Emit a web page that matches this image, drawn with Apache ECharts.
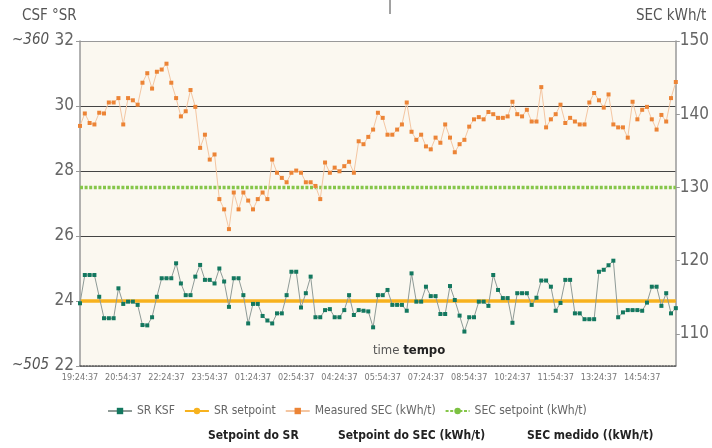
<!DOCTYPE html>
<html>
<head>
<meta charset="utf-8">
<script src="https://cdn.jsdelivr.net/npm/echarts@6/dist/echarts.min.js"></script>
<style>
  html, body { margin: 0; padding: 0; background: #ffffff; }
  #chart { width: 712px; height: 448px; }
</style>
</head>
<body>
<div id="chart"></div>
<script>
// Sampling times, every 10 minutes
const CATEGORIES = [
  '19:24:37','19:34:37','19:44:37','19:54:37','20:04:37','20:14:37','20:24:37','20:34:37','20:44:37',
  '20:54:37','21:04:37','21:14:37','21:24:37','21:34:37','21:44:37','21:54:37','22:04:37','22:14:37',
  '22:24:37','22:34:37','22:44:37','22:54:37','23:04:37','23:14:37','23:24:37','23:34:37','23:44:37',
  '23:54:37','00:04:37','00:14:37','00:24:37','00:34:37','00:44:37','00:54:37','01:04:37','01:14:37',
  '01:24:37','01:34:37','01:44:37','01:54:37','02:04:37','02:14:37','02:24:37','02:34:37','02:44:37',
  '02:54:37','03:04:37','03:14:37','03:24:37','03:34:37','03:44:37','03:54:37','04:04:37','04:14:37',
  '04:24:37','04:34:37','04:44:37','04:54:37','05:04:37','05:14:37','05:24:37','05:34:37','05:44:37',
  '05:54:37','06:04:37','06:14:37','06:24:37','06:34:37','06:44:37','06:54:37','07:04:37','07:14:37',
  '07:24:37','07:34:37','07:44:37','07:54:37','08:04:37','08:14:37','08:24:37','08:34:37','08:44:37',
  '08:54:37','09:04:37','09:14:37','09:24:37','09:34:37','09:44:37','09:54:37','10:04:37','10:14:37',
  '10:24:37','10:34:37','10:44:37','10:54:37','11:04:37','11:14:37','11:24:37','11:34:37','11:44:37',
  '11:54:37','12:04:37','12:14:37','12:24:37','12:34:37','12:44:37','12:54:37','13:04:37','13:14:37',
  '13:24:37','13:34:37','13:44:37','13:54:37','14:04:37','14:14:37','14:24:37','14:34:37','14:44:37',
  '14:54:37','15:04:37','15:14:37','15:24:37','15:34:37','15:44:37','15:54:37','16:04:37'
];

// SR KSF (left axis, °SR)
const SR_KSF = [
  23.93,24.80,24.80,24.80,24.13,23.47,23.47,23.47,24.39,23.91,
  23.98,23.98,23.88,23.26,23.25,23.50,24.13,24.70,24.70,24.70,
  25.16,24.54,24.18,24.18,24.75,25.11,24.65,24.65,24.54,25.00,
  24.60,23.82,24.70,24.70,24.18,23.31,23.91,23.91,23.54,23.40,
  23.31,23.62,23.62,24.18,24.90,24.90,23.80,24.24,24.75,23.50,
  23.50,23.72,23.75,23.50,23.50,23.72,24.18,23.57,23.72,23.70,
  23.68,23.19,24.18,24.18,24.34,23.88,23.88,23.88,23.70,24.85,
  23.98,23.98,24.44,24.15,24.15,23.60,23.60,24.46,24.03,23.55,
  23.06,23.50,23.50,23.98,23.98,23.85,24.80,24.34,24.09,24.09,
  23.33,24.24,24.24,24.24,23.88,24.10,24.63,24.63,24.44,23.70,
  23.94,24.65,24.65,23.62,23.62,23.44,23.44,23.44,24.90,24.96,
  25.10,25.24,23.50,23.65,23.72,23.72,23.72,23.70,23.95,24.44,
  24.44,23.85,24.24,23.62,23.78
];

// Measured SEC (right axis, kWh/t)
const SEC_MEASURED = [
  138.4,140.1,138.8,138.6,140.2,140.1,141.6,141.6,142.2,138.6,
  142.2,141.9,141.3,144.3,145.6,143.5,145.8,146.1,146.9,144.3,
  142.2,139.7,140.4,143.3,141.0,135.4,137.2,133.8,134.5,128.4,
  127.0,124.3,129.3,127.0,129.3,128.2,127.0,128.4,129.3,128.4,
  133.8,132.0,131.3,130.7,132.0,132.3,132.0,130.7,130.7,130.2,
  128.4,133.4,132.0,132.7,132.2,132.9,133.5,132.0,136.3,135.9,
  136.9,137.9,140.2,139.5,137.2,137.2,137.9,138.6,141.6,137.6,
  136.5,137.2,135.6,135.2,136.8,136.1,138.6,136.8,134.8,135.9,
  136.5,138.3,139.3,139.6,139.3,140.3,140.0,139.5,139.5,139.7,
  141.7,140.0,139.7,140.6,139.0,139.0,143.7,138.2,139.3,140.0,
  141.3,138.8,139.5,139.0,138.6,138.6,141.6,142.9,141.9,140.9,
  142.7,138.6,138.2,138.2,136.8,141.7,139.3,140.6,141.0,139.3,
  137.9,139.9,139.0,142.2,144.4
];

const SR_SETPOINT = 24;
const SEC_SETPOINT = 130;

const LEFT_TICKS = [22, 24, 26, 28, 30, 32];
const RIGHT_TICKS = [110, 120, 130, 140, 150];

const FONT = '"Liberation Sans Narrow", "DejaVu Sans Condensed", "Arial Narrow", "Liberation Sans", sans-serif';
const first = CATEGORIES[0];
const last = CATEGORIES[CATEGORIES.length - 1];

const chart = echarts.init(document.getElementById('chart'), null, { renderer: 'canvas' });

chart.setOption({
  backgroundColor: '#ffffff',
  animation: false,
  textStyle: { fontFamily: FONT },
  grid: {
    left: 80, right: 29, top: 41, bottom: 82,
    show: true, backgroundColor: '#fbf8f0', borderWidth: 0
  },
  legend: {
    top: 400, left: 102, itemGap: 9,
    itemWidth: 24, itemHeight: 8,
    textStyle: { fontFamily: FONT, fontSize: 12, color: '#666' },
    data: ['SR KSF', 'SR setpoint', 'Measured SEC (kWh/t)', 'SEC setpoint (kWh/t)']
  },
  xAxis: {
    type: 'category',
    data: CATEGORIES,
    boundaryGap: false,
    axisLine: { show: true, lineStyle: { color: '#555', width: 1.5, type: 'dotted' } },
    axisTick: { show: false },
    axisLabel: { interval: 8, fontSize: 9, color: '#777', margin: 7, fontFamily: FONT },
    splitLine: { show: false }
  },
  yAxis: [
    {
      type: 'value', min: 22, max: 32, interval: 2, position: 'left',
      axisLine: { show: true, lineStyle: { color: '#999', width: 1.5 } },
      axisTick: { show: true, length: 4, lineStyle: { color: '#999' } },
      axisLabel: { fontSize: 17, color: '#666', margin: 6, fontFamily: FONT,
        customValues: LEFT_TICKS },
      splitLine: { show: true, lineStyle: {
        color: ['#999', '#444', '#444', '#444', '#444', '#999'], width: 1.2 } }
    },
    {
      type: 'value', min: 105.6, max: 150, position: 'right',
      axisLine: { show: true, lineStyle: { color: '#999', width: 1.5 } },
      axisTick: { show: true, length: 4, inside: false, lineStyle: { color: '#999' },
        customValues: RIGHT_TICKS },
      axisLabel: { fontSize: 17, color: '#666', margin: 4, fontFamily: FONT,
        customValues: RIGHT_TICKS },
      splitLine: { show: false }
    }
  ],
  series: [
    {
      name: 'SR setpoint', type: 'line', yAxisIndex: 0,
      data: [[first, SR_SETPOINT], [last, SR_SETPOINT]],
      symbol: 'none', color: '#f7b21e',
      lineStyle: { color: '#f7b21e', width: 3.5 }, z: 3
    },
    {
      name: 'SEC setpoint (kWh/t)', type: 'line', yAxisIndex: 1,
      data: [[first, SEC_SETPOINT], [last, SEC_SETPOINT]],
      symbol: 'none', color: '#7cc142',
      lineStyle: { color: '#86c64a', width: 3.5, type: [3, 1.6] }, z: 3
    },
    {
      name: 'Measured SEC (kWh/t)', type: 'line', yAxisIndex: 1,
      data: SEC_MEASURED,
      symbol: 'rect', symbolSize: 4, showAllSymbol: true, color: '#ec8436',
      itemStyle: { color: '#ec8436' },
      lineStyle: { color: '#f4c6a2', width: 1 }, z: 4
    },
    {
      name: 'SR KSF', type: 'line', yAxisIndex: 0,
      data: SR_KSF,
      symbol: 'rect', symbolSize: 4, showAllSymbol: true, color: '#13785f',
      itemStyle: { color: '#13785f' },
      lineStyle: { color: '#8f9b97', width: 1 }, z: 4
    }
  ],
  graphic: [
    { type: 'text', left: 22, top: 9, style: { text: 'CSF °SR', font: '15px ' + FONT, fill: '#555' } },
    { type: 'text', left: 636, top: 9, style: { text: 'SEC kWh/t', font: '15px ' + FONT, fill: '#555' } },
    { type: 'text', left: 12, top: 33, style: { text: '~360', font: 'italic 15px ' + FONT, fill: '#555' } },
    { type: 'text', left: 12, top: 358, style: { text: '~505', font: 'italic 15px ' + FONT, fill: '#555' } },
    { type: 'text', left: 373, top: 344, style: {
        rich: {
          a: { font: '13px ' + FONT, fill: '#555' },
          b: { font: 'bold 13px ' + FONT, fill: '#222' }
        },
        text: '{a|time }{b|tempo}'
      } },
    { type: 'text', left: 208, top: 430, style: { text: 'Setpoint do SR', font: 'bold 12px ' + FONT, fill: '#222' } },
    { type: 'text', left: 338, top: 430, style: { text: 'Setpoint do SEC (kWh/t)', font: 'bold 12px ' + FONT, fill: '#222' } },
    { type: 'text', left: 527, top: 430, style: { text: 'SEC medido ((kWh/t)', font: 'bold 12px ' + FONT, fill: '#222' } },
    { type: 'line', shape: { x1: 390, y1: 0, x2: 390, y2: 14 }, style: { stroke: '#444', lineWidth: 1 } }
  ]
});
</script>
</body>
</html>
